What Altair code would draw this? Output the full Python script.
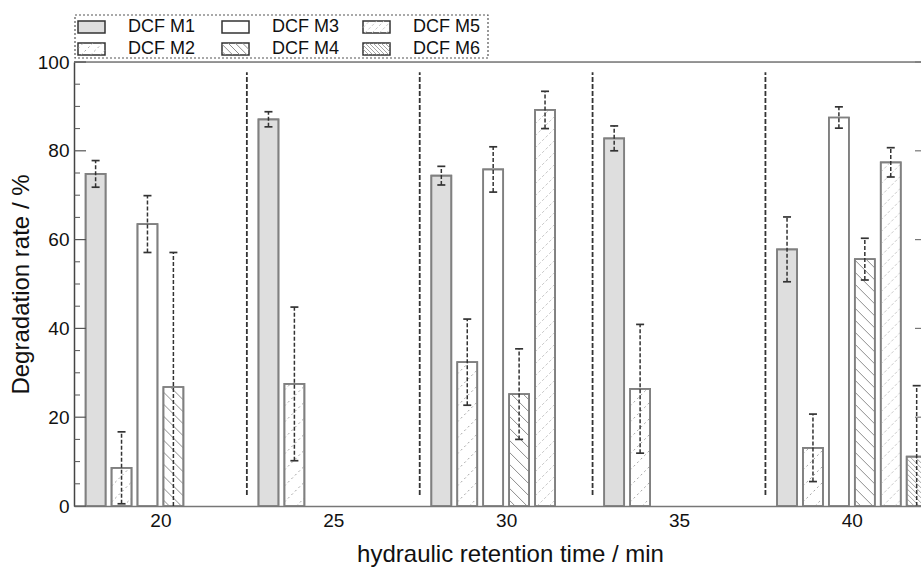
import altair as alt
import pandas as pd
import numpy as np

# ---------------- data ----------------
hrt = [20, 25, 30, 35, 40]
series = ["DCF M1", "DCF M2", "DCF M3", "DCF M4", "DCF M5", "DCF M6"]

m1 = [74.8, 87.1, 74.4, 82.8, 57.8]
m1_err = [3.0, 1.7, 2.1, 2.8, 7.3]
m2 = [8.6, 27.5, 32.4, 26.4, 13.1]
m2_err = [8.1, 17.3, 9.7, 14.5, 7.6]
m3 = [63.5, None, 75.8, None, 87.5]
m3_err = [6.4, None, 5.1, None, 2.4]
m4 = [26.8, None, 25.2, None, 55.6]
m4_err = [30.3, None, 10.2, None, 4.7]
m5 = [None, None, 89.2, None, 77.4]
m5_err = [None, None, 4.2, None, 3.3]
m6 = [None, None, None, None, 11.1]
m6_err = [None, None, None, None, 16.0]

separators = [22.5, 27.5, 32.5, 37.5]
x_ticks = [20, 25, 30, 35, 40]
y_major = [0, 20, 40, 60, 80, 100]
y_minor = [v for v in range(0, 101, 5) if v % 20 != 0]

rates = [m1, m2, m3, m4, m5, m6]
errs = [m1_err, m2_err, m3_err, m4_err, m5_err, m6_err]

# ---------------- layout / style ----------------
FONT = "Liberation Sans"
TXT = "#111111"
W, H = 847, 444
X_DOMAIN = [17.5, 42.0]
PXM = W / (X_DOMAIN[1] - X_DOMAIN[0])   # px per minute
PXP = H / 100.0                          # px per percent
SLOT = 0.75
BAR_PX = 20
CAP_PX = 4

fills = {"DCF M1": "#dedede"}
hatch = {
    "DCF M2": dict(d="/", step=16, color="#9a9a9a", dash=[2, 3], width=0.9),
    "DCF M4": dict(d="\\", step=12, color="#8e8e8e", dash=None, width=1.0),
    "DCF M5": dict(d="/", step=12, color="#c4c4c4", dash=[3, 2], width=0.9),
    "DCF M6": dict(d="\\", step=5, color="#8e8e8e", dash=None, width=0.8),
}


def hatch_segments(w, h, d, step):
    out = []
    if d == "/":  # v = u + c
        for c in np.arange(-w + step * 0.5, h, step):
            u0, u1 = max(0.0, -c), min(w, h - c)
            if u1 > u0:
                out.append((u0, u0 + c, u1, u1 + c))
    else:  # u + v = c
        for c in np.arange(step * 0.5, w + h, step):
            u0, u1 = max(0.0, c - h), min(w, c)
            if u1 > u0:
                out.append((u0, c - u0, u1, c - u1))
    return out


rows = []
for si, s in enumerate(series):
    for hi_, t in enumerate(hrt):
        v = rates[si][hi_]
        if v is None:
            continue
        e = errs[si][hi_]
        xc = t + (si - 2.5) * SLOT
        rows.append(dict(series=s, hrt=t, rate=v, err=e, xc=xc,
                         x0=xc - BAR_PX / 2 / PXM, x1=xc + BAR_PX / 2 / PXM,
                         lo=max(v - e, 0.0), hi=v + e,
                         cl=xc - CAP_PX / PXM, cr=xc + CAP_PX / PXM,
                         fill=fills.get(s, "#ffffff")))
bars = pd.DataFrame(rows)

# hatch lines inside bars (data units)
hrows = []
for _, r in bars.iterrows():
    if r.series not in hatch:
        continue
    hs = hatch[r.series]
    for (u0, v0, u1, v1) in hatch_segments(BAR_PX, r.rate * PXP, hs["d"], hs["step"]):
        hrows.append(dict(series=r.series, xa=r.x0 + u0 / PXM, ya=v0 / PXP,
                          xb=r.x0 + u1 / PXM, yb=v1 / PXP))
hdf = pd.DataFrame(hrows)


def px_x(px):
    return X_DOMAIN[0] + px / PXM


def px_y(py):
    return 100 - py / PXP


# legend (pixel layout relative to plot origin, converted to data units)
LEG_COLS = [4, 148, 289]
LEG_TEXT = [54, 198, 339]
LEG_ROWS = [-41, -19]
SW_W, SW_H = 27, 12
leg_order = [["DCF M1", "DCF M2"], ["DCF M3", "DCF M4"], ["DCF M5", "DCF M6"]]
lrows, lhrows = [], []
for ci, col in enumerate(leg_order):
    for ri, s in enumerate(col):
        top = LEG_ROWS[ri]
        lrows.append(dict(series=s, sx0=px_x(LEG_COLS[ci]), sx1=px_x(LEG_COLS[ci] + SW_W),
                          sy0=px_y(top), sy1=px_y(top + SW_H),
                          tx=px_x(LEG_TEXT[ci]), ty=px_y(top + SW_H / 2),
                          fill=fills.get(s, "#ffffff")))
        if s in hatch:
            hs = hatch[s]
            for (u0, v0, u1, v1) in hatch_segments(SW_W, SW_H, hs["d"], max(hs["step"] * 0.6, 4)):
                lhrows.append(dict(series=s,
                                   xa=px_x(LEG_COLS[ci] + u0), ya=px_y(top + SW_H - v0),
                                   xb=px_x(LEG_COLS[ci] + u1), yb=px_y(top + SW_H - v1)))
ldf = pd.DataFrame(lrows)
lhdf = pd.DataFrame(lhrows)
box = pd.DataFrame([dict(x0=px_x(1), x1=px_x(414), y0=px_y(-47), y1=px_y(-4))])

# ---------------- chart ----------------
xs = alt.Scale(domain=X_DOMAIN, nice=False, zero=False)
ys = alt.Scale(domain=[0, 100], nice=False)

x_axis = alt.Axis(values=x_ticks, ticks=False, grid=False, labelFontSize=19, labelPadding=5,
                  labelColor=TXT, domainColor="#777", domainWidth=1.5, labelFont=FONT,
                  title="hydraulic retention time / min", titleFontSize=24, titleFont=FONT,
                  titleFontWeight="normal", titleColor=TXT, titlePadding=12,
                  titleX=436, titleAlign="center")
y_axis = alt.Axis(values=y_major, ticks=False, grid=False, labelFontSize=19, labelPadding=5,
                  labelColor=TXT, domainColor="#444", domainWidth=1.5, labelFont=FONT,
                  title="Degradation rate / %", titleFontSize=24, titleFont=FONT,
                  titleFontWeight="normal", titleColor=TXT, titlePadding=4)


def X(f):
    return alt.X(f, scale=xs, axis=x_axis)


def Y(f):
    return alt.Y(f, scale=ys, axis=y_axis)


bar_layer = alt.Chart(bars).mark_bar(stroke="#808080", strokeWidth=1.7, clip=True).encode(
    x=X("x0:Q"), x2="x1:Q", y=Y("rate:Q"), y2=alt.datum(0),
    fill=alt.Fill("fill:N", scale=None),
)

layers = [bar_layer]

for s, hs in hatch.items():
    kw = dict(color=hs["color"], strokeWidth=hs["width"], clip=True)
    if hs["dash"]:
        kw["strokeDash"] = hs["dash"]
    layers.append(alt.Chart(hdf[hdf.series == s]).mark_rule(**kw).encode(
        x=X("xa:Q"), y=Y("ya:Q"), x2="xb:Q", y2="yb:Q"))

# redraw bar outlines over hatches
layers.append(alt.Chart(bars).mark_bar(stroke="#808080", strokeWidth=1.7, fillOpacity=0, clip=True).encode(
    x=X("x0:Q"), x2="x1:Q", y=Y("rate:Q"), y2=alt.datum(0)))

sep = pd.DataFrame({"x": separators, "lo": [2.5] * 4, "hi": [97.7] * 4})
layers.append(alt.Chart(sep).mark_rule(color="#333", strokeWidth=1.8, strokeDash=[5, 2]).encode(
    x=X("x:Q"), y=Y("lo:Q"), y2="hi:Q"))

# error bars
layers.append(alt.Chart(bars).mark_rule(color="#333", strokeWidth=1.5, strokeDash=[4, 2], clip=True).encode(
    x=X("xc:Q"), y=Y("lo:Q"), y2="hi:Q"))
layers.append(alt.Chart(bars).mark_rule(color="#333", strokeWidth=1.7, clip=True).encode(
    x=X("cl:Q"), x2="cr:Q", y=Y("hi:Q")))
layers.append(alt.Chart(bars[bars.lo > 0]).mark_rule(color="#333", strokeWidth=1.7, clip=True).encode(
    x=X("cl:Q"), x2="cr:Q", y=Y("lo:Q")))

# inward axis ticks and top frame line
ymaj = pd.DataFrame({"v": y_major})
ymin = pd.DataFrame({"v": y_minor})
top = pd.DataFrame({"v": [100]})
layers.append(alt.Chart(top).mark_rule(color="#777", strokeWidth=1.6).encode(
    y=Y("v:Q"), x=alt.value(0), x2=alt.value(W)))
layers.append(alt.Chart(ymaj).mark_rule(color="#555", strokeWidth=1.2).encode(
    y=Y("v:Q"), x=alt.value(0), x2=alt.value(12)))
layers.append(alt.Chart(ymin).mark_rule(color="#555", strokeWidth=1.0).encode(
    y=Y("v:Q"), x=alt.value(0), x2=alt.value(6)))
layers.append(alt.Chart(ymaj).mark_rule(color="#777", strokeWidth=1.2).encode(
    y=Y("v:Q"), x=alt.value(W - 6), x2=alt.value(W)))

# legend
layers.append(alt.Chart(box).mark_rect(fillOpacity=0, stroke="#555", strokeWidth=1.2, strokeDash=[2, 2]).encode(
    x=X("x0:Q"), x2="x1:Q", y=Y("y0:Q"), y2="y1:Q"))
layers.append(alt.Chart(ldf).mark_rect(stroke="#333", strokeWidth=1.5).encode(
    x=X("sx0:Q"), x2="sx1:Q", y=Y("sy0:Q"), y2="sy1:Q",
    fill=alt.Fill("fill:N", scale=None)))
for s, hs in hatch.items():
    kw = dict(color=hs["color"], strokeWidth=hs["width"])
    if hs["dash"]:
        kw["strokeDash"] = hs["dash"]
    layers.append(alt.Chart(lhdf[lhdf.series == s]).mark_rule(**kw).encode(
        x=X("xa:Q"), y=Y("ya:Q"), x2="xb:Q", y2="yb:Q"))
layers.append(alt.Chart(ldf).mark_text(align="left", baseline="middle", fontSize=18, font=FONT, color=TXT).encode(
    x=X("tx:Q"), y=Y("ty:Q"), text="series:N"))

chart = alt.layer(*layers).properties(
    width=W, height=H,
    padding={"left": 74, "top": 62, "right": 0, "bottom": 571 - 62 - H},
    autosize=alt.AutoSizeParams(type="none"),
    background="white",
).configure_view(strokeWidth=0).configure(font=FONT)

chart.save("out.html", embed_options={"renderer": "svg", "actions": False})
